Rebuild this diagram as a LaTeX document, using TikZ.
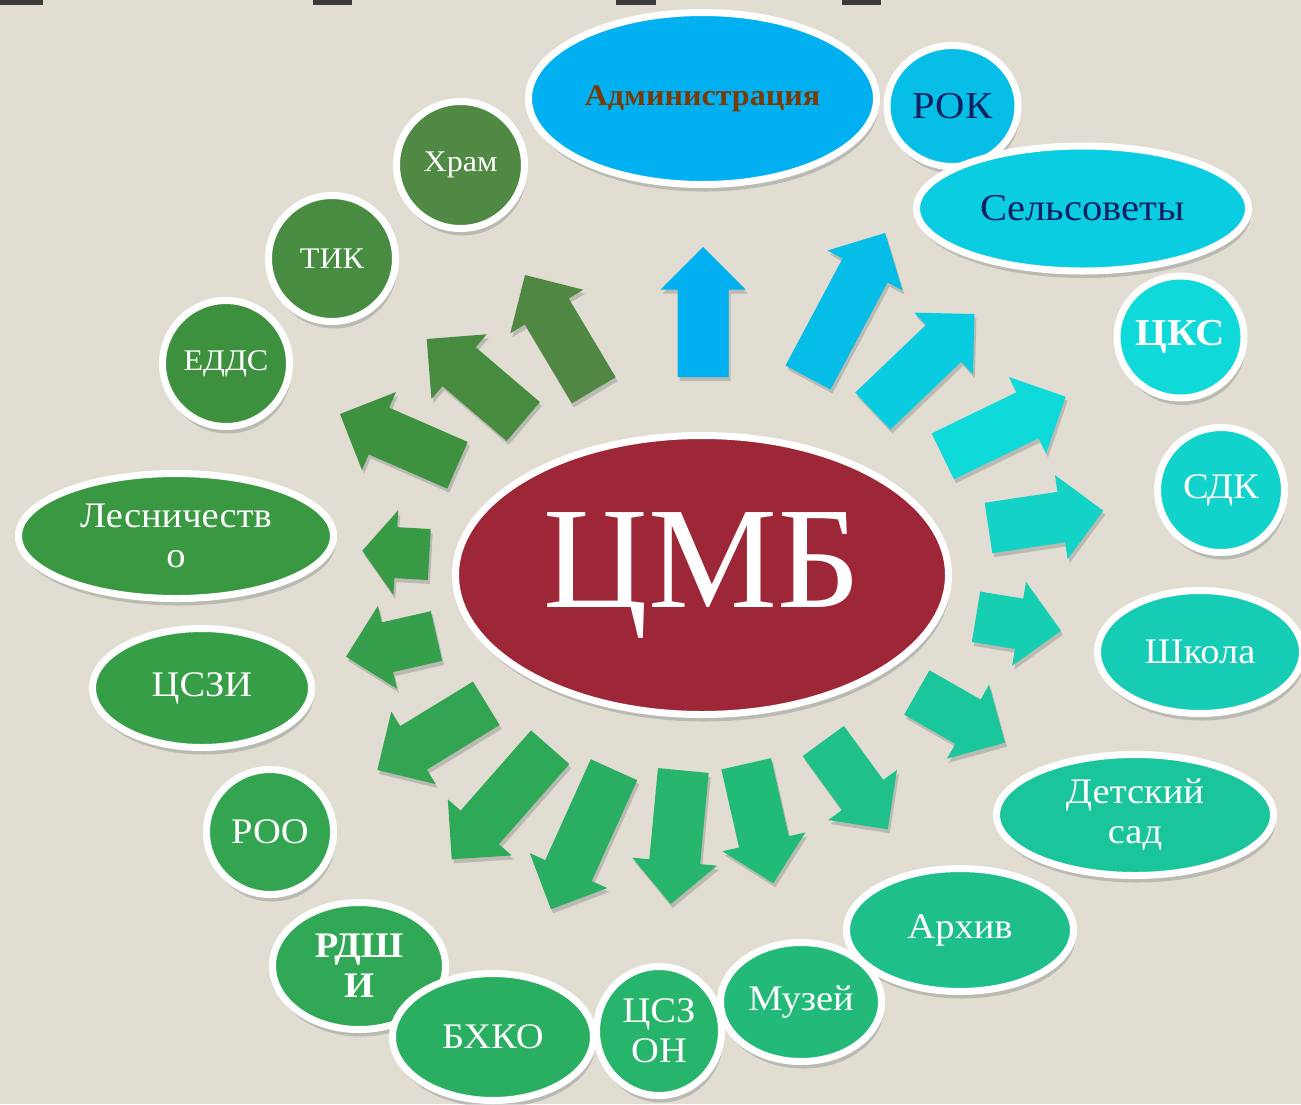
\documentclass[tikz,border=0pt]{standalone}
\usepackage{fontspec}
\setmainfont{Liberation Serif}[FakeStretch=1.07]
\newfontfamily\cmbfont{Liberation Serif}
\usetikzlibrary{shapes.geometric,shadows,calc}
\definecolor{bg}{HTML}{E2DDD2}
\definecolor{bar}{HTML}{3B3B3B}
\definecolor{navy}{HTML}{0E2060}
\definecolor{brownt}{HTML}{7A3A08}
\definecolor{shcol}{HTML}{3F5552}
\tikzset{
  nshd/.style={drop shadow={shadow xshift=2pt, shadow yshift=-7pt, opacity=0.25, fill=shcol}},
  ashd/.style={drop shadow={shadow xshift=2pt, shadow yshift=-4pt, opacity=0.25, fill=shcol}},
  bub/.style={ellipse, draw=white, line width=7pt, inner sep=0pt, outer sep=0pt,
    text=white, align=center, nshd, font=\fontsize{36}{40}\selectfont},
}
% bubble: name, x, y, outer rx, outer ry, fill colour (hex), options, text
\newcommand{\bubble}[8]{%
  \definecolor{c#1}{HTML}{#6}%
  \node[bub, fill=c#1, minimum width={2*#4-7}, minimum height={2*#5-7}, #7] (#1) at (#2,#3) {#8};}
% block arrow: name, tail x, tail y, tip x, tip y, fill colour (hex)
\newcommand{\barrow}[6]{%
  \definecolor{a#1}{HTML}{#6}%
  \pgfmathsetmacro{\ardx}{#4-#2}%
  \pgfmathsetmacro{\ardy}{#5-#3}%
  \pgfmathsetmacro{\arlen}{veclen(\ardx,\ardy)}%
  \pgfmathsetmacro{\arux}{\ardx/\arlen}%
  \pgfmathsetmacro{\aruy}{\ardy/\arlen}%
  \pgfmathsetmacro{\arhb}{\arlen-0.5*min(\arlen,85)}%
  \pgfmathsetmacro{\arsx}{25.5*\aruy}%
  \pgfmathsetmacro{\arsy}{25.5*\arux}%
  \pgfmathsetmacro{\arhx}{42.5*\aruy}%
  \pgfmathsetmacro{\arhy}{42.5*\arux}%
  \pgfmathsetmacro{\arbx}{\arhb*\arux}%
  \pgfmathsetmacro{\arby}{\arhb*\aruy}%
  \coordinate (#1-tail) at (#2,#3);
  \coordinate (#1-tip) at (#4,#5);
  \coordinate (#1-base) at ($(#1-tail)+(\arbx,\arby)$);
  \fill[fill=a#1, ashd]
    ($(#1-tail)+(-\arsx,\arsy)$) -- ($(#1-base)+(-\arsx,\arsy)$) --
    ($(#1-base)+(-\arhx,\arhy)$) -- (#1-tip) --
    ($(#1-base)+(\arhx,-\arhy)$) -- ($(#1-base)+(\arsx,-\arsy)$) --
    ($(#1-tail)+(\arsx,-\arsy)$) -- cycle;}
\begin{document}
\begin{tikzpicture}[x=1pt,y=-1pt]
\useasboundingbox (0,0) rectangle (1301,1104);
\fill[bg] (0,0) rectangle (1301,1104);
% marks along the top edge
\fill[bar] (0,0) rectangle (43,5);
\fill[bar] (313,0) rectangle (352,5);
\fill[bar] (616,0) rectangle (656,5);
\fill[bar] (842,0) rectangle (881,5);
% arrows
\barrow{r1}{703}{377}{703}{247}{00B0F0}
\barrow{r2}{808}{377.5}{885}{233}{05BDE6}
\barrow{r3}{872.8}{411}{974.3}{314}{09CCE0}
\barrow{r4}{942.8}{456.3}{1065.7}{396.7}{0EDAD9}
\barrow{r5}{988.5}{528}{1103.3}{510.7}{12D3C6}
\barrow{r6}{976}{616.7}{1061}{630.7}{16CEB2}
\barrow{r7}{916.8}{692.5}{1005}{742.7}{1AC69C}
\barrow{r8}{823.3}{741}{887.7}{829.3}{1FC08A}
\barrow{r9}{746.2}{763.8}{773.3}{883.3}{22BA77}
\barrow{r10}{683.3}{770.5}{670.7}{904}{27B56C}
\barrow{r11}{614}{769.7}{551}{909.3}{2AAF62}
\barrow{r12}{550.2}{747.2}{451.7}{859.3}{2EA958}
\barrow{r13}{486.3}{703.3}{377.3}{770}{32A452}
\barrow{r14}{436.5}{636}{346}{656.7}{359F4B}
\barrow{r15}{429.3}{554.5}{362.3}{550.7}{389A44}
\barrow{r16}{457.5}{465.3}{340}{414}{3D913F}
\barrow{r17}{523.3}{421.5}{426.7}{339}{478B41}
\barrow{r18}{593.8}{390.3}{525}{275}{4F8743}
% bubbles
\bubble{adm}{702.5}{98.5}{177.5}{89.5}{00B0F0}{text=brownt, font=\fontsize{30}{34}\selectfont\bfseries}{Администрация}
\bubble{rok}{952.5}{106}{69}{64}{06BEE6}{text=navy, font=\fontsize{38}{42}\selectfont}{РОК}
\bubble{sel}{1082.5}{208.5}{169.5}{66}{0ACDE2}{text=navy, font=\fontsize{38}{42}\selectfont}{Сельсоветы}
\bubble{cks}{1180.5}{337}{67}{64.5}{10D9D9}{font=\fontsize{38}{42}\selectfont\bfseries}{ЦКС}
\bubble{sdk}{1221}{490}{67}{66}{12D3CC}{}{СДК}
\bubble{shk}{1200}{652}{106}{65}{17CCB5}{}{Школа}
\bubble{det}{1135}{815}{142}{64}{1BC59C}{}{Детский\\сад}
\bubble{arh}{960}{930}{117}{65}{1FBF8B}{}{Архив}
\bubble{muz}{801}{1002}{84}{63}{23B979}{}{Музей}
\bubble{csz}{659}{1031}{66}{68}{27B46B}{}{ЦСЗ\\ОН}
\bubble{hram}{460.5}{165}{67.5}{67}{4F8943}{font=\fontsize{30}{34}\selectfont}{Храм}
\bubble{tik}{332}{258.5}{67}{66.5}{478C40}{font=\fontsize{30}{34}\selectfont}{ТИК}
\bubble{edds}{226}{363.5}{67}{66.5}{3D913E}{font=\fontsize{30}{34}\selectfont}{ЕДДС}
\bubble{les}{176}{536}{161}{66}{3A9843}{}{Лесничеств\\о}
\bubble{cszi}{202}{688}{113}{63}{379E48}{}{ЦСЗИ}
\bubble{roo}{270}{832}{67}{66}{33A44F}{}{РОО}
\bubble{rdsh}{359}{966}{90}{67}{30A856}{font=\fontsize{36}{40}\selectfont\bfseries}{РДШ\\И}
\bubble{bhk}{493}{1037}{104}{67}{2AAF62}{}{БХКО}
\bubble{cmb}{702}{575}{250}{143}{9E2737}{font=\cmbfont\fontsize{145}{155}\selectfont}{ЦМБ}
\end{tikzpicture}
\end{document}
